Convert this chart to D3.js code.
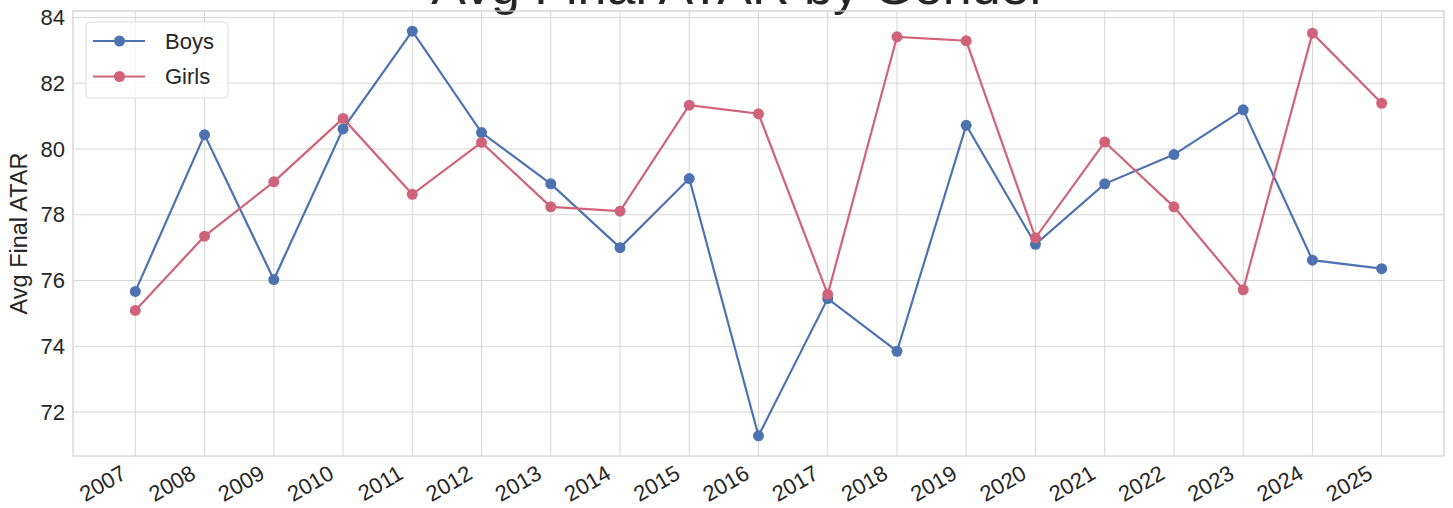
<!DOCTYPE html>
<meta charset="utf-8">
<script src="https://d3js.org/d3.v7.min.js"></script>
<style>
  body { margin: 0; background: #fff; }
  text { font-family: "Liberation Sans", Arial, sans-serif; fill: #262626; }
</style>
<body>
<div id="chart"></div>
<script>
// data
var years = [2007, 2008, 2009, 2010, 2011, 2012, 2013, 2014, 2015, 2016,
             2017, 2018, 2019, 2020, 2021, 2022, 2023, 2024, 2025];
var boys  = [75.67, 80.43, 76.03, 80.61, 83.58, 80.50, 78.94, 77.00, 79.10, 71.28,
             75.45, 73.85, 80.72, 77.10, 78.94, 79.83, 81.19, 76.62, 76.36];
var girls = [75.09, 77.35, 79.00, 80.93, 78.62, 80.20, 78.24, 78.11, 81.33, 81.07,
             75.58, 83.41, 83.29, 77.30, 80.21, 78.24, 75.72, 83.52, 81.39];
var yTicks = [72, 74, 76, 78, 80, 82, 84];
var seriesNames = ["Boys", "Girls"];
var seriesColors = ["#4c72b0", "#d0637a"];

var W = 1453, H = 508;
var margin = {top: 11, right: 9, bottom: 52, left: 73};
var width = W - margin.left - margin.right,
    height = H - margin.top - margin.bottom;

var svg = d3.select("#chart").append("svg")
    .attr("width", W).attr("height", H);

// title (partly cut off at the top, as in the reference)
svg.append("text")
    .attr("x", 739).attr("y", 4)
    .attr("text-anchor", "middle")
    .style("font-size", "52px")
    .text("Avg Final ATAR by Gender");

var g = svg.append("g")
    .attr("transform", "translate(" + margin.left + "," + margin.top + ")");

// matplotlib-like 5% margins
var xPad = (d3.max(years) - d3.min(years)) * 0.05;
var x = d3.scaleLinear()
    .domain([d3.min(years) - xPad, d3.max(years) + xPad])
    .range([0, width]);

var all = boys.concat(girls);
var yPad = (d3.max(all) - d3.min(all)) * 0.05;
var y = d3.scaleLinear()
    .domain([d3.min(all) - yPad, d3.max(all) + yPad])
    .range([height, 0]);

// grid
g.append("g").selectAll("line").data(years).enter().append("line")
    .attr("x1", d => x(d)).attr("x2", d => x(d))
    .attr("y1", 0).attr("y2", height)
    .attr("stroke", "#d6d6d6").attr("stroke-width", 1);
g.append("g").selectAll("line").data(yTicks).enter().append("line")
    .attr("x1", 0).attr("x2", width)
    .attr("y1", d => y(d)).attr("y2", d => y(d))
    .attr("stroke", "#d6d6d6").attr("stroke-width", 1);

// frame
g.append("rect")
    .attr("width", width).attr("height", height)
    .attr("fill", "none").attr("stroke", "#d0d0d0").attr("stroke-width", 1.25);

// y axis labels
var yAxis = g.append("g").call(d3.axisLeft(y).tickValues(yTicks).tickSize(0).tickPadding(8));
yAxis.select(".domain").remove();
yAxis.selectAll("text")
    .style("font-size", "22px")
    .style("font-family", "'Liberation Sans', Arial, sans-serif")
    .attr("fill", "#262626");

// x axis labels, rotated
var xAxis = g.append("g")
    .attr("transform", "translate(0," + height + ")")
    .call(d3.axisBottom(x).tickValues(years).tickFormat(d3.format("d")).tickSize(0));
xAxis.select(".domain").remove();
xAxis.selectAll("text")
    .style("font-size", "22px")
    .style("font-family", "'Liberation Sans', Arial, sans-serif")
    .attr("fill", "#262626")
    .attr("text-anchor", "end")
    .attr("x", 0).attr("y", 0).attr("dy", "0.72em")
    .attr("transform", "translate(-16,8) rotate(-30)");

// y label
svg.append("text")
    .attr("transform", "translate(27," + (margin.top + height / 2) + ") rotate(-90)")
    .attr("text-anchor", "middle")
    .style("font-size", "23.5px")
    .text("Avg Final ATAR");

// lines + markers
var line = d3.line().x(d => x(d[0])).y(d => y(d[1]));
[boys, girls].forEach(function(vals, i) {
  var pts = years.map((yr, j) => [yr, vals[j]]);
  g.append("path").datum(pts)
    .attr("d", line)
    .attr("fill", "none")
    .attr("stroke", seriesColors[i])
    .attr("stroke-width", 2.2);
  g.append("g").selectAll("circle").data(pts).enter().append("circle")
    .attr("cx", d => x(d[0])).attr("cy", d => y(d[1]))
    .attr("r", 5.5)
    .attr("fill", seriesColors[i]);
});

// legend
var leg = svg.append("g").attr("transform", "translate(86,22)");
leg.append("rect")
    .attr("width", 142).attr("height", 76)
    .attr("rx", 4).attr("ry", 4)
    .attr("fill", "#fff").attr("fill-opacity", 0.85)
    .attr("stroke", "#dcdcdc").attr("stroke-width", 1);
seriesNames.forEach(function(name, i) {
  var cy = 19 + i * 35.5;
  leg.append("line")
    .attr("x1", 7).attr("x2", 59).attr("y1", cy).attr("y2", cy)
    .attr("stroke", seriesColors[i]).attr("stroke-width", 2.2);
  leg.append("circle")
    .attr("cx", 33.5).attr("cy", cy).attr("r", 5.5)
    .attr("fill", seriesColors[i]);
  leg.append("text")
    .attr("x", 79).attr("y", cy).attr("dy", "0.36em")
    .style("font-size", "22px")
    .text(name);
});
</script>
</body>
